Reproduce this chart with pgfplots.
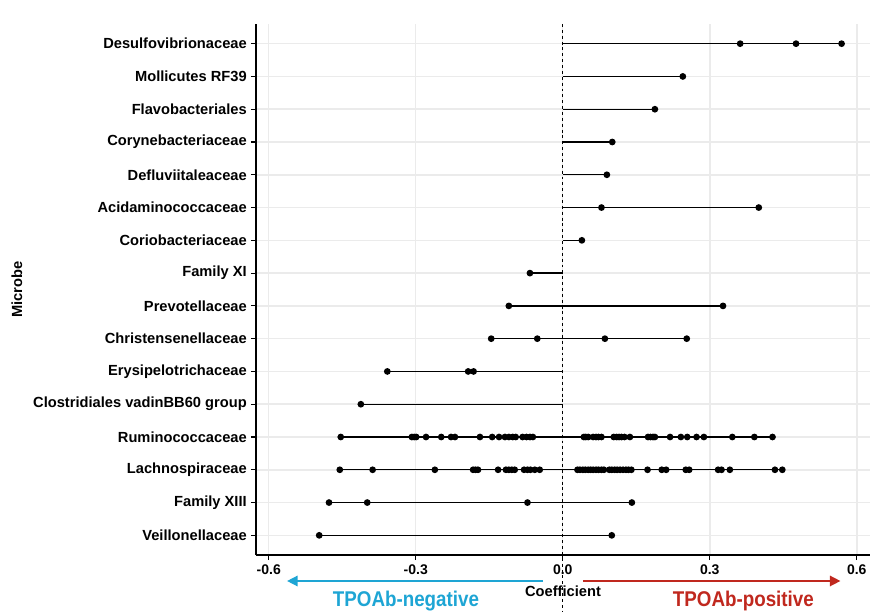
\documentclass[border=0pt]{standalone}
\usepackage{fontspec}
\setmainfont{Liberation Sans}
\usepackage{pgfplots}
\pgfplotsset{compat=1.18}
\usetikzlibrary{arrows.meta}
\definecolor{negblue}{RGB}{30,165,212}
\definecolor{posred}{RGB}{192,40,30}
\definecolor{gridgray}{RGB}{235,235,235}

\begin{document}
\begin{tikzpicture}
\begin{axis}[
  at={(0,0)}, anchor=south west,
  scale only axis, width=460.5pt, height=398.25pt,
  xmin=-0.626, xmax=0.627, ymin=0.4, ymax=16.6,
  axis x line=bottom, axis y line=left,
  axis line style={-, line width=1.1pt, black},
  xtick={-0.6,-0.3,0,0.3,0.6},
  xticklabels={-0.6,-0.3,0.0,0.3,0.6},
  ytick={1,...,16},
  yticklabels={Veillonellaceae, Family XIII, Lachnospiraceae, Ruminococcaceae,
    Clostridiales vadinBB60 group, Erysipelotrichaceae, Christensenellaceae,
    Prevotellaceae, Family XI, Coriobacteriaceae, Acidaminococcaceae,
    Defluviitaleaceae, Corynebacteriaceae, Flavobacteriales, Mollicutes RF39,
    Desulfovibrionaceae},
  tick align=outside, major tick length=3.75pt,
  tick style={black, line width=0.8pt},
  grid=major, major grid style={gridgray, line width=1.1pt},
  yticklabel style={font=\fontsize{11}{13}\selectfont\bfseries, inner sep=0pt, xshift=-3pt},
  xticklabel style={font=\fontsize{10.5}{12}\selectfont\bfseries, inner sep=0pt, yshift=-3pt},
  xlabel={Coefficient},
  xlabel style={font=\fontsize{11}{13}\selectfont\bfseries, at={(axis description cs:0.5,-0.0678)}, anchor=center, inner sep=0pt},
  ylabel={Microbe},
  ylabel style={font=\fontsize{11}{13}\selectfont\bfseries, at={(axis description cs:-0.3893,0.5)}, anchor=center, inner sep=0pt},
  clip=false,
  every axis plot/.append style={black, line width=1pt},
  dots/.style={only marks, mark=*, mark size=2pt, mark options={fill=black, draw=black}},
]
% segments (from 0 to the extreme coefficient of each microbe)
\addplot[no marks] coordinates {(0,16) (0.569,16)};
\addplot[no marks] coordinates {(0,15) (0.245,15)};
\addplot[no marks] coordinates {(0,14) (0.188,14)};
\addplot[no marks] coordinates {(0,13) (0.101,13)};
\addplot[no marks] coordinates {(0,12) (0.090,12)};
\addplot[no marks] coordinates {(0,11) (0.400,11)};
\addplot[no marks] coordinates {(0,10) (0.039,10)};
\addplot[no marks] coordinates {(-0.067,9) (0,9)};
\addplot[no marks] coordinates {(-0.110,8) (0.327,8)};
\addplot[no marks] coordinates {(-0.146,7) (0.253,7)};
\addplot[no marks] coordinates {(-0.358,6) (0,6)};
\addplot[no marks] coordinates {(-0.412,5) (0,5)};
\addplot[no marks] coordinates {(-0.453,4) (0.428,4)};
\addplot[no marks] coordinates {(-0.455,3) (0.448,3)};
\addplot[no marks] coordinates {(-0.477,2) (0.141,2)};
\addplot[no marks] coordinates {(-0.497,1) (0.100,1)};
% points
\addplot[dots] coordinates {(0.362,16) (0.476,16) (0.569,16)};
\addplot[dots] coordinates {(0.245,15)};
\addplot[dots] coordinates {(0.188,14)};
\addplot[dots] coordinates {(0.101,13)};
\addplot[dots] coordinates {(0.090,12)};
\addplot[dots] coordinates {(0.079,11) (0.400,11)};
\addplot[dots] coordinates {(0.039,10)};
\addplot[dots] coordinates {(-0.067,9)};
\addplot[dots] coordinates {(-0.110,8) (0.327,8)};
\addplot[dots] coordinates {(-0.146,7) (-0.052,7) (0.086,7) (0.253,7)};
\addplot[dots] coordinates {(-0.358,6) (-0.193,6) (-0.182,6)};
\addplot[dots] coordinates {(-0.412,5)};
\addplot[dots] coordinates {
  (-0.453,4) (-0.308,4) (-0.303,4) (-0.299,4) (-0.279,4) (-0.248,4) (-0.228,4)
  (-0.220,4) (-0.169,4) (-0.144,4) (-0.130,4) (-0.118,4) (-0.110,4) (-0.102,4)
  (-0.096,4) (-0.082,4) (-0.074,4) (-0.067,4) (-0.061,4)
  (0.043,4) (0.047,4) (0.052,4) (0.062,4) (0.068,4) (0.073,4) (0.079,4)
  (0.104,4) (0.110,4) (0.115,4) (0.120,4) (0.126,4) (0.137,4) (0.174,4)
  (0.179,4) (0.184,4) (0.188,4) (0.219,4) (0.241,4) (0.254,4) (0.273,4)
  (0.288,4) (0.346,4) (0.391,4) (0.428,4)};
\addplot[dots] coordinates {
  (-0.455,3) (-0.388,3) (-0.261,3) (-0.183,3) (-0.178,3) (-0.173,3) (-0.132,3)
  (-0.116,3) (-0.110,3) (-0.104,3) (-0.098,3) (-0.079,3) (-0.072,3) (-0.066,3)
  (-0.057,3) (-0.047,3)
  (0.030,3) (0.035,3) (0.041,3) (0.046,3) (0.052,3) (0.057,3) (0.062,3)
  (0.068,3) (0.073,3) (0.079,3) (0.084,3) (0.095,3) (0.100,3) (0.106,3)
  (0.111,3) (0.117,3) (0.123,3) (0.129,3) (0.134,3) (0.140,3)
  (0.173,3) (0.202,3) (0.211,3) (0.251,3) (0.258,3) (0.317,3) (0.324,3)
  (0.341,3) (0.433,3) (0.448,3)};
\addplot[dots] coordinates {(-0.477,2) (-0.399,2) (-0.072,2) (0.141,2)};
\addplot[dots] coordinates {(-0.497,1) (0.100,1)};
% annotations below the axis
\draw[negblue, line width=2pt, -{Triangle[length=8pt,width=7.5pt]}]
  (axis cs:-0.040,-0.393) -- (axis cs:-0.563,-0.393);
\draw[posred, line width=2pt, -{Triangle[length=8pt,width=7.5pt]}]
  (axis cs:0.041,-0.393) -- (axis cs:0.567,-0.393);
\node[anchor=base, negblue, font=\fontsize{16}{18}\selectfont\bfseries, inner sep=0pt]
  at (axis cs:-0.320,-1.165) {\scalebox{0.88}[1]{TPOAb-negative}};
\node[anchor=base, posred, font=\fontsize{16}{18}\selectfont\bfseries, inner sep=0pt]
  at (axis cs:0.3686,-1.165) {\scalebox{0.88}[1]{TPOAb-positive}};
\coordinate (ztop) at (axis cs:0,16.6);
\coordinate (zbot) at (axis cs:0,-1.4);
\end{axis}
\draw[black, line width=0.8pt, dash pattern=on 2.2pt off 2.2pt] (ztop) -- (zbot);
\pgfresetboundingbox
\useasboundingbox (-192pt,-42pt) rectangle (460.5pt,416.25pt);
\end{tikzpicture}
\end{document}
